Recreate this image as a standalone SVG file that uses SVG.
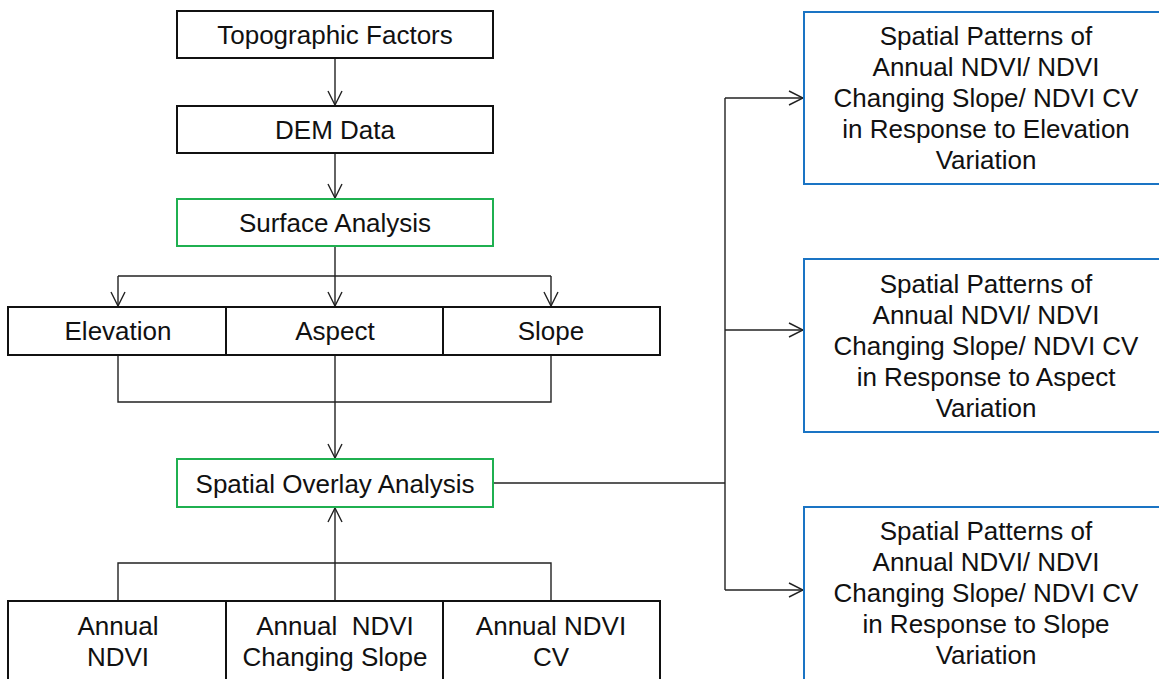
<svg xmlns="http://www.w3.org/2000/svg" width="1159" height="679" viewBox="0 0 1159 679">
  <defs>
    <marker id="arrow" viewBox="0 0 16 16" refX="15" refY="8" markerWidth="16" markerHeight="16" markerUnits="userSpaceOnUse" orient="auto">
      <path d="M1,1 L15,8 L1,15" fill="none" stroke="#222" stroke-width="1.4"/>
    </marker>
  </defs>
  <style>
    .box { fill: #fff; stroke: #111; stroke-width: 2; }
    .green { fill: #fff; stroke: #1fb050; stroke-width: 2; }
    .blue { fill: #fff; stroke: #1a74c4; stroke-width: 2; }
    .div { stroke: #111; stroke-width: 2; }
    .conn { fill: none; stroke: #222; stroke-width: 1.4; }
    text { font-family: "Liberation Sans", Arial, sans-serif; font-size: 26px; fill: #111; text-anchor: middle; }
  </style>
  <rect width="1159" height="679" fill="#fff"/>

  <g id="connectors">
    <path class="conn" d="M335,58 V105" marker-end="url(#arrow)"/>
    <path class="conn" d="M335,153 V198" marker-end="url(#arrow)"/>
    <path class="conn" d="M335,246 V276"/>
    <path class="conn" d="M118,276 H551"/>
    <path class="conn" d="M118,276 V306" marker-end="url(#arrow)"/>
    <path class="conn" d="M335,276 V306" marker-end="url(#arrow)"/>
    <path class="conn" d="M551,276 V306" marker-end="url(#arrow)"/>
    <path class="conn" d="M118,355 V402 H551 V355"/>
    <path class="conn" d="M335,355 V458" marker-end="url(#arrow)"/>
    <path class="conn" d="M118,600 V563 H551 V600"/>
    <path class="conn" d="M335,600 V508" marker-end="url(#arrow)"/>
    <path class="conn" d="M493,483 H725"/>
    <path class="conn" d="M725,98 V590"/>
    <path class="conn" d="M725,98 H803" marker-end="url(#arrow)"/>
    <path class="conn" d="M725,330 H803" marker-end="url(#arrow)"/>
    <path class="conn" d="M725,590 H803" marker-end="url(#arrow)"/>
  </g>

  <g id="topographic-factors">
    <rect class="box" x="177" y="11" width="316" height="47"/>
    <text x="335" y="44">Topographic Factors</text>
  </g>
  <g id="dem-data">
    <rect class="box" x="177" y="106" width="316" height="47"/>
    <text x="335" y="139">DEM Data</text>
  </g>
  <g id="surface-analysis">
    <rect class="green" x="177" y="199" width="316" height="47"/>
    <text x="335" y="232">Surface Analysis</text>
  </g>

  <g id="terrain-factors">
    <rect class="box" x="8" y="307" width="652" height="48"/>
    <line class="div" x1="226" y1="307" x2="226" y2="355"/>
    <line class="div" x1="443" y1="307" x2="443" y2="355"/>
    <text x="118" y="340">Elevation</text>
    <text x="335" y="340">Aspect</text>
    <text x="551" y="340">Slope</text>
  </g>

  <g id="spatial-overlay-analysis">
    <rect class="green" x="177" y="459" width="316" height="48"/>
    <text x="335" y="493">Spatial Overlay Analysis</text>
  </g>

  <g id="ndvi-indicators">
    <rect class="box" x="8" y="601" width="652" height="90"/>
    <line class="div" x1="226" y1="601" x2="226" y2="691"/>
    <line class="div" x1="443" y1="601" x2="443" y2="691"/>
    <text x="118" y="635">Annual</text>
    <text x="118" y="666">NDVI</text>
    <text x="335" y="635" xml:space="preserve">Annual  NDVI</text>
    <text x="335" y="666">Changing Slope</text>
    <text x="551" y="635">Annual NDVI</text>
    <text x="551" y="666">CV</text>
  </g>

  <g id="elevation-patterns">
    <rect class="blue" x="804" y="12" width="370" height="172"/>
    <text x="986" y="45">Spatial Patterns of</text>
    <text x="986" y="76">Annual NDVI/ NDVI</text>
    <text x="986" y="107">Changing Slope/ NDVI CV</text>
    <text x="986" y="138">in Response to Elevation</text>
    <text x="986" y="169">Variation</text>
  </g>

  <g id="aspect-patterns">
    <rect class="blue" x="804" y="259" width="370" height="173"/>
    <text x="986" y="293">Spatial Patterns of</text>
    <text x="986" y="324">Annual NDVI/ NDVI</text>
    <text x="986" y="355">Changing Slope/ NDVI CV</text>
    <text x="986" y="386">in Response to Aspect</text>
    <text x="986" y="417">Variation</text>
  </g>

  <g id="slope-patterns">
    <rect class="blue" x="804" y="507" width="370" height="185"/>
    <text x="986" y="540">Spatial Patterns of</text>
    <text x="986" y="571">Annual NDVI/ NDVI</text>
    <text x="986" y="602">Changing Slope/ NDVI CV</text>
    <text x="986" y="633">in Response to Slope</text>
    <text x="986" y="664">Variation</text>
  </g>
</svg>
